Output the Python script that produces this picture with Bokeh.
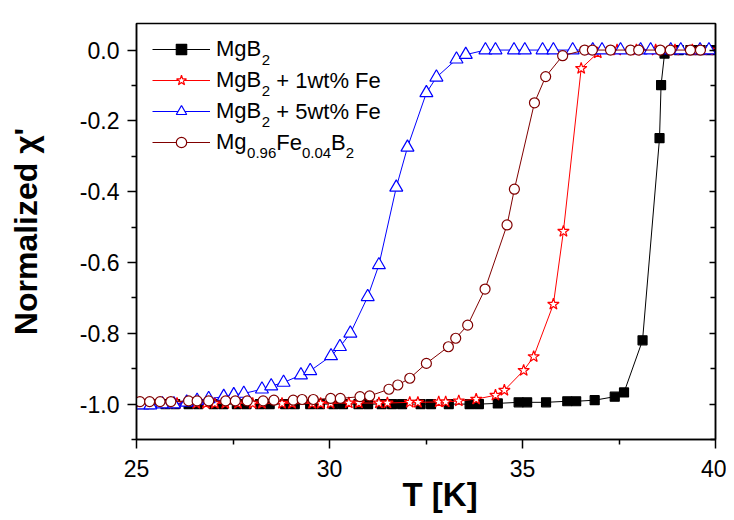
from bokeh.plotting import figure
from bokeh.models import (FixedTicker, LinearAxis, Legend, LegendItem, Label, Title,
                          PrintfTickFormatter, CustomJSTickFormatter, Range1d)
from bokeh.embed import file_html
from bokeh.resources import INLINE

# ---------------- data ----------------
t_mgb2 = [25.10, 25.35, 25.75, 26.00, 26.35, 26.60, 27.00, 27.25, 27.60, 27.85,
          28.20, 28.45, 28.85, 29.10, 29.50, 29.75, 30.10, 30.35, 30.75, 31.00,
          31.35, 31.62, 31.88, 32.36, 32.63, 33.09, 33.63, 33.87, 34.36, 34.90,
          35.12, 35.61, 36.16, 36.39, 36.87, 37.39, 37.63, 38.11, 38.55, 38.59,
          38.68, 39.05, 39.35, 39.60, 39.87]
chi_mgb2 = [-1.000, -1.000, -1.000, -1.000, -1.000, -1.000, -1.000, -1.000, -1.000, -1.000,
            -1.000, -1.000, -1.000, -1.000, -1.000, -1.000, -1.000, -1.000, -1.000, -1.000,
            -1.000, -1.000, -1.000, -1.000, -1.000, -1.000, -1.000, -1.000, -0.998, -0.995,
            -0.995, -0.995, -0.992, -0.992, -0.989, -0.979, -0.967, -0.820, -0.249, -0.099,
            -0.010, 0.000, 0.000, 0.000, 0.000]

t_fe1 = [25.07, 25.30, 25.80, 26.05, 26.55, 26.80, 27.03, 27.30, 27.63, 28.01,
         28.25, 28.77, 29.03, 29.55, 29.77, 30.03, 30.50, 30.76, 31.28, 31.50,
         32.08, 32.29, 32.83, 33.01, 33.35, 33.80, 34.30, 34.53, 35.03, 35.29,
         35.80, 36.06, 36.52, 36.95, 37.45, 37.95, 38.45, 38.95, 39.40, 39.83]
chi_fe1 = [-0.998, -0.998, -0.998, -0.998, -0.998, -0.998, -0.998, -0.998, -0.998, -0.998,
           -0.998, -0.998, -0.998, -0.998, -0.998, -0.998, -0.997, -0.997, -0.997, -0.997,
           -0.995, -0.995, -0.994, -0.994, -0.991, -0.986, -0.975, -0.961, -0.905, -0.866,
           -0.718, -0.512, -0.052, -0.008, 0.000, 0.000, 0.000, 0.000, 0.000, 0.000]

t_fe5 = [25.15, 25.36, 25.67, 25.97, 26.30, 26.57, 26.87, 27.26, 27.52, 27.78,
         28.25, 28.49, 28.81, 29.26, 29.50, 30.04, 30.27, 30.54, 30.99, 31.28,
         31.73, 32.02, 32.51, 32.77, 33.29, 33.53, 34.04, 34.30, 34.78, 35.06,
         35.52, 35.80, 36.30, 36.82, 37.06, 37.54, 38.06, 38.32, 38.84, 39.10,
         39.60, 39.83]
chi_fe5 = [-1.003, -1.003, -1.000, -1.000, -0.995, -0.990, -0.985, -0.979, -0.974, -0.970,
           -0.958, -0.949, -0.939, -0.918, -0.906, -0.864, -0.838, -0.800, -0.697, -0.607,
           -0.388, -0.275, -0.121, -0.077, -0.026, -0.013, 0.000, 0.000, 0.000, 0.000,
           0.000, 0.000, 0.000, 0.000, 0.000, 0.000, 0.000, 0.000, 0.000, 0.000,
           0.000, 0.000]

t_mgfe = [25.09, 25.34, 25.61, 25.89, 26.35, 26.57, 26.87, 27.31, 27.56, 27.87,
          28.28, 28.56, 29.06, 29.29, 29.58, 30.03, 30.28, 30.79, 31.04, 31.54,
          31.77, 32.08, 32.51, 33.08, 33.27, 33.58, 34.03, 34.60, 34.79, 35.31,
          35.60, 36.04, 36.61, 36.81, 37.28, 37.80, 38.01, 38.57, 38.83, 39.35,
          39.61]
chi_mgfe = [-0.993, -0.993, -0.993, -0.993, -0.991, -0.991, -0.991, -0.991, -0.991, -0.991,
            -0.991, -0.989, -0.989, -0.987, -0.987, -0.984, -0.984, -0.979, -0.977, -0.958,
            -0.946, -0.927, -0.885, -0.838, -0.814, -0.777, -0.675, -0.494, -0.393, -0.149,
            -0.075, -0.016, 0.000, 0.000, 0.000, 0.000, 0.000, 0.000, 0.000, 0.000,
            0.000]

x_ticks = [25, 30, 35, 40]
x_minor = [27.5, 32.5, 37.5]
y_ticks = [-1.0, -0.8, -0.6, -0.4, -0.2, 0.0]
y_minor = [-1.1, -0.9, -0.7, -0.5, -0.3, -0.1]

x_title = "T [K]"
y_title = "Normalized \u03c7'"

# legend text fragments: (text, is_subscript)
legend_parts = [
    [("MgB", False), ("2", True)],
    [("MgB", False), ("2", True), ("+ 1wt% Fe", False)],
    [("MgB", False), ("2", True), ("+ 5wt% Fe", False)],
    [("Mg", False), ("0.96", True), ("Fe", False), ("0.04", True), ("B", False), ("2", True)],
]

# ---------------- figure ----------------
FONT = "Liberation Sans"
p = figure(width=726, height=518, output_backend="svg", toolbar_location=None,
           x_range=Range1d(25, 40), y_range=Range1d(-1.1, 0.075),
           min_border_left=136, min_border_right=11, min_border_top=23,
           min_border_bottom=79)
p.xgrid.visible = False
p.ygrid.visible = False
p.outline_line_color = "black"
p.outline_line_width = 1.5
p.background_fill_color = "white"
p.border_fill_color = "white"

for ax in (p.xaxis[0], p.yaxis[0]):
    ax.axis_line_width = 1.5
    ax.major_tick_line_width = 1.5
    ax.minor_tick_line_width = 1.5
    ax.major_tick_out = 9
    ax.major_tick_in = 0
    ax.minor_tick_out = 5
    ax.minor_tick_in = 0
    ax.major_label_text_font = FONT
    ax.major_label_text_font_size = "23px"
    ax.major_label_text_color = "black"

p.xaxis.ticker = FixedTicker(ticks=x_ticks, minor_ticks=x_minor)
p.yaxis.ticker = FixedTicker(ticks=y_ticks, minor_ticks=y_minor)
p.xaxis.formatter = PrintfTickFormatter(format="%d")
p.yaxis.formatter = PrintfTickFormatter(format="%.1f")
p.xaxis.major_label_standoff = 11
p.yaxis.major_label_standoff = 8

p.yaxis.axis_label = y_title
p.yaxis.axis_label_text_font = FONT
p.yaxis.axis_label_text_font_size = "32px"
p.yaxis.axis_label_text_font_style = "bold"
p.yaxis.axis_label_text_color = "black"
p.yaxis.axis_label_standoff = 33

right = LinearAxis(ticker=FixedTicker(ticks=y_ticks, minor_ticks=y_minor),
                   formatter=CustomJSTickFormatter(code="return ''"),
                   major_label_text_font_size="0px", major_label_standoff=0,
                   axis_line_width=1.5, major_tick_line_width=1.5, minor_tick_line_width=1.5,
                   major_tick_in=6, major_tick_out=0, minor_tick_in=5, minor_tick_out=0)
p.add_layout(right, "right")

# x-axis title, slightly right of centre as in the reference
p.add_layout(Title(text=x_title, align="left", offset=266, standoff=-7,
                   vertical_align="top", text_font=FONT, text_font_size="33px",
                   text_font_style="bold", text_color="black"), "below")

# ---------------- series ----------------
series = [
    (t_mgb2, chi_mgb2, "black", "square", 9, "black"),
    (t_fe1, chi_fe1, "#FF0000", "star", 12, "white"),
    (t_fe5, chi_fe5, "#0000FF", "triangle", 13, "white"),
    (t_mgfe, chi_mgfe, "#800000", "circle", 10, "white"),
]
items = []
for (t, c, col, mk, sz, fill), parts in zip(series, legend_parts):
    lr = p.line(t, c, line_color=col, line_width=1)
    sr = p.scatter(t, c, marker=mk, size=sz, line_color=col, fill_color=fill,
                   line_width=1.2)
    items.append(LegendItem(label=parts[0][0], renderers=[lr, sr]))

ROW_H, SPACING, GLYPH_W, STANDOFF = 26, 5, 58, 6
LEG_X, LEG_BOTTOM = 16, 284
legend = Legend(items=items, location=(LEG_X, LEG_BOTTOM), glyph_width=GLYPH_W,
                glyph_height=ROW_H, label_height=ROW_H, spacing=SPACING, padding=0,
                margin=0, label_standoff=STANDOFF, border_line_alpha=0,
                background_fill_alpha=0, label_text_font=FONT,
                label_text_font_size="22px", label_text_color="black")
p.add_layout(legend)

# remaining legend fragments (subscripts etc.), positioned after the legend label
MAIN, SUB = 22, 15
WID = {"M": .833, "g": .556, "B": .667, "F": .611, "e": .556, "0": .556, "2": .556,
       "9": .556, "6": .556, "4": .556, ".": .278, " ": .278}
def twidth(s, size):
    return sum(WID.get(ch, .556) for ch in s) * size

n = len(legend_parts)
top_center = LEG_BOTTOM + n * ROW_H + (n - 1) * SPACING - ROW_H / 2
for i, parts in enumerate(legend_parts):
    cy = top_center - i * (ROW_H + SPACING)
    x = LEG_X + GLYPH_W + STANDOFF + twidth(parts[0][0], MAIN)
    for txt, sub in parts[1:]:
        if not sub:
            x += twidth(" ", MAIN) if txt.startswith("+") else 0
        p.add_layout(Label(x=x, y=cy - (10.5 if sub else 0), x_units="screen",
                           y_units="screen", text=txt, text_align="left",
                           text_baseline="middle", text_font=FONT,
                           text_font_size=f"{SUB if sub else MAIN}px",
                           text_color="black"))
        x += twidth(txt, SUB if sub else MAIN)

open("out.html", "w").write(file_html(p, INLINE))
